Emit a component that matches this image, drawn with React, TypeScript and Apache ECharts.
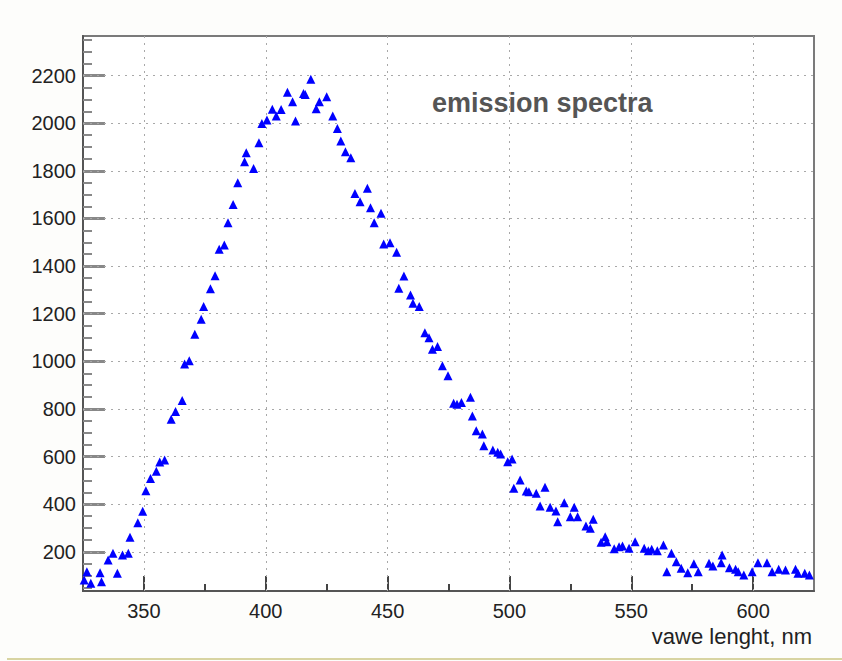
import React, { useEffect, useRef } from "react";
import * as echarts from "echarts";

// wavelength (nm) of each measured point
const wavelengths = [
  325.5, 326.6, 328.2, 332.0, 332.6, 335.3, 337.3, 339.1, 341.2, 343.6,
  344.3, 347.5, 349.5, 350.8, 352.7, 355.1, 356.5, 358.5, 361.2, 363.0,
  365.7, 366.7, 368.6, 370.9, 373.5, 374.5, 377.3, 379.2, 380.9, 383.0,
  384.5, 386.6, 388.5, 391.3, 392.0, 395.0, 397.2, 398.4, 400.5, 402.7,
  404.3, 406.3, 408.9, 411.0, 412.2, 415.5, 416.2, 418.5, 420.7, 422.0,
  425.0, 427.5, 429.4, 430.8, 432.7, 434.9, 436.6, 438.7, 441.7, 443.0,
  444.5, 447.3, 448.4, 451.0, 453.7, 454.6, 456.7, 459.4, 460.4, 463.0,
  465.3, 467.0, 468.4, 470.5, 472.5, 474.8, 477.1, 478.5, 480.3, 484.0,
  484.8, 486.4, 488.9, 489.5, 493.2, 495.2, 496.4, 499.3, 501.1, 501.8,
  504.4, 506.9, 508.0, 511.0, 512.6, 514.6, 516.7, 519.1, 519.8, 522.5,
  525.0, 526.6, 528.0, 531.4, 533.2, 534.4, 537.6, 539.3, 540.0, 543.0,
  545.0, 546.4, 549.1, 551.6, 555.3, 557.0, 558.4, 560.7, 563.2, 564.6,
  566.5, 568.5, 570.5, 573.2, 575.7, 577.5, 581.9, 583.5, 586.9, 587.3,
  590.3, 592.8, 593.9, 596.2, 599.6, 602.0, 605.7, 607.8, 610.5, 613.3,
  617.4, 618.4, 621.2, 623.1,
];

// emission intensity of each point
const intensities = [
  82, 117, 69, 113, 75, 166, 195, 111, 187, 195,
  262, 323, 371, 457, 508, 539, 578, 586, 757, 790,
  836, 989, 1003, 1114, 1177, 1230, 1305, 1360, 1471, 1489,
  1582, 1659, 1750, 1838, 1876, 1810, 1918, 1999, 2013, 2058,
  2030, 2057, 2130, 2090, 2009, 2125, 2120, 2184, 2061, 2090,
  2111, 2030, 1978, 1925, 1880, 1855, 1705, 1670, 1727, 1645,
  1582, 1622, 1493, 1498, 1458, 1307, 1358, 1279, 1244, 1230,
  1120, 1099, 1051, 1062, 982, 940, 824, 820, 827, 849,
  771, 709, 695, 646, 628, 618, 611, 579, 590, 467,
  502, 456, 453, 446, 393, 472, 388, 372, 327, 407,
  348, 388, 348, 309, 299, 337, 241, 264, 243, 213,
  222, 225, 215, 243, 215, 205, 211, 205, 229, 117,
  194, 159, 131, 113, 150, 117, 153, 141, 155, 187,
  134, 127, 117, 103, 117, 155, 155, 117, 127, 124,
  127, 111, 111, 103,
];

const xMajorTicks = [350, 400, 450, 500, 550, 600];
const xMinorTicks = [375, 425, 475, 525, 575];
const yMajorTicks = [200, 400, 600, 800, 1000, 1200, 1400, 1600, 1800, 2000, 2200];
const yMinorTicks = [
  50, 100, 150, 250, 300, 350, 450, 500, 550, 650, 700, 750, 850, 900, 950,
  1050, 1100, 1150, 1250, 1300, 1350, 1450, 1500, 1550, 1650, 1700, 1750,
  1850, 1900, 1950, 2050, 2100, 2150, 2250, 2300, 2350,
];

const X_MIN = 325;
const X_MAX = 625;
const Y_MIN = 36;
const Y_MAX = 2366;

const TITLE = "emission spectra";
const X_TITLE = "vawe lenght, nm";

export default function App() {
  const ref = useRef<HTMLDivElement>(null);

  useEffect(() => {
    document.body.style.margin = "0";
    if (!ref.current) return;
    const chart = echarts.init(ref.current, undefined, { renderer: "svg" });
    const font = "'Liberation Sans', Arial, Helvetica, sans-serif";
    const gridLine = { color: "#a8a8a8", width: 1, type: [2, 5] as number[] };
    const data = wavelengths.map((x, i) => [x, intensities[i]]);
    const plain = (v: number) => String(Math.round(v));

    chart.setOption({
      animation: false,
      backgroundColor: "#fdfdfb",
      grid: {
        left: 83,
        right: 28,
        top: 36,
        bottom: 70,
        show: true,
        borderColor: "#7a7a7a",
        borderWidth: 2,
        backgroundColor: "#ffffff",
      },
      xAxis: [
        {
          type: "value",
          min: X_MIN,
          max: X_MAX,
          position: "bottom",
          axisLine: { show: true, lineStyle: { color: "#555", width: 2 } },
          axisTick: {
            show: true,
            inside: true,
            length: 15,
            customValues: xMajorTicks,
            lineStyle: { color: "#444", width: 2 },
          },
          axisLabel: {
            show: true,
            customValues: xMajorTicks,
            formatter: plain,
            margin: 10,
            color: "#222",
            fontSize: 20,
            fontFamily: font,
          },
          splitLine: { show: false },
        },
        {
          type: "value",
          min: X_MIN,
          max: X_MAX,
          position: "bottom",
          axisLine: { show: false },
          axisTick: {
            show: true,
            inside: true,
            length: 7,
            customValues: xMinorTicks,
            lineStyle: { color: "#444", width: 2 },
          },
          axisLabel: { show: false },
          splitLine: { show: false },
        },
      ],
      yAxis: [
        {
          type: "value",
          min: Y_MIN,
          max: Y_MAX,
          position: "left",
          axisLine: { show: true, lineStyle: { color: "#555", width: 2 } },
          axisTick: {
            show: true,
            inside: true,
            length: 22,
            customValues: yMajorTicks,
            lineStyle: { color: "#888", width: 3 },
          },
          axisLabel: {
            show: true,
            customValues: yMajorTicks,
            formatter: plain,
            margin: 7,
            color: "#222",
            fontSize: 20,
            fontFamily: font,
          },
          splitLine: { show: false },
        },
        {
          type: "value",
          min: Y_MIN,
          max: Y_MAX,
          position: "left",
          axisLine: { show: false },
          axisTick: {
            show: true,
            inside: true,
            length: 9,
            customValues: yMinorTicks,
            lineStyle: { color: "#888", width: 2 },
          },
          axisLabel: { show: false },
          splitLine: { show: false },
        },
      ],
      series: [
        {
          type: "scatter",
          xAxisIndex: 0,
          yAxisIndex: 0,
          data,
          symbol: "triangle",
          symbolSize: [9, 9],
          itemStyle: { color: "#0000ff", opacity: 1 },
          z: 5,
          markLine: {
            silent: true,
            symbol: ["none", "none"],
            label: { show: false },
            lineStyle: gridLine,
            emphasis: { disabled: true },
            data: [
              ...yMajorTicks.map((v) => ({ yAxis: v })),
              ...xMajorTicks.map((v) => ({ xAxis: v })),
            ],
            z: 1,
          },
        },
      ],
      graphic: [
        {
          type: "text",
          left: 432,
          top: 89,
          style: {
            text: TITLE,
            fill: "#555",
            font: `bold 27px ${font}`,
          },
          z: 10,
        },
        {
          type: "text",
          right: 30,
          top: 625,
          style: {
            text: X_TITLE,
            fill: "#222",
            font: `22px ${font}`,
          },
          z: 10,
        },
        {
          type: "rect",
          shape: { x: 7, y: 658, width: 835, height: 2 },
          style: { fill: "#d8d4a2" },
          z: 10,
        },
      ],
    });

    return () => chart.dispose();
  }, []);

  return <div ref={ref} style={{ width: 842, height: 661 }} />;
}
